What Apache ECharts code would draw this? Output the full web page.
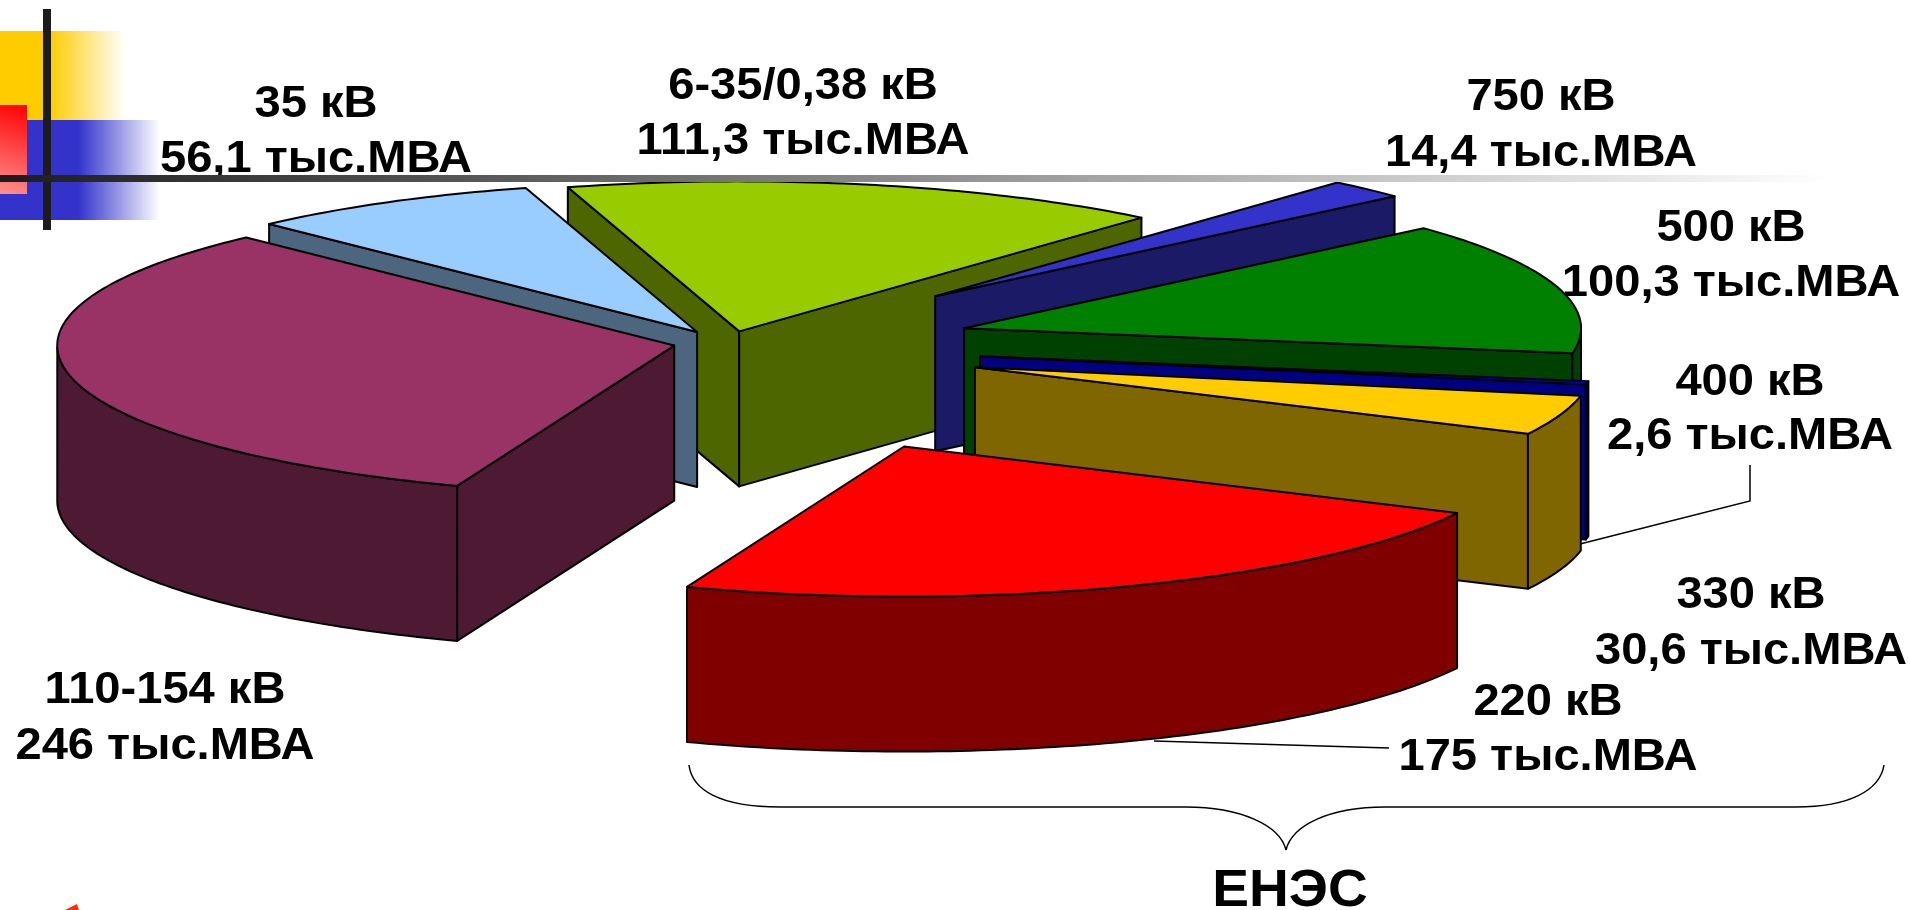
<!DOCTYPE html>
<html>
<head>
<meta charset="utf-8">
<style>
html,body{margin:0;padding:0;background:#fff;overflow:hidden}
#chart{width:1910px;height:910px}
</style>
<script src="https://cdn.jsdelivr.net/npm/echarts@6/dist/echarts.min.js"></script>
</head>
<body>
<div id="chart"></div>
<script>
// Installed transformer capacity by voltage class, thousand MVA
const voltages   = ['110-154 кВ', '35 кВ', '6-35/0,38 кВ', '750 кВ', '500 кВ', '400 кВ', '330 кВ', '220 кВ'];
const capacities = [246, 56.1, 111.3, 14.4, 100.3, 2.6, 30.6, 175];
const unit = 'тыс.МВА';
const groupCaption = 'ЕНЭС';

// Per-slice appearance
const topColors  = ['#993366', '#99ccff', '#99cc00', '#3333cc', '#008000', '#0000cc', '#ffcc00', '#ff0000'];
const sideColors = ['#4d1933', '#4d6680', '#4d6600', '#1a1a66', '#004000', '#000080', '#806600', '#800000'];
const explosion  = [0.084, 0.10, 0.093, 0.473, 0.40, 0.42, 0.424, 0.742];
const apexNudge  = [[0, -2], [3, 0], [2, 0], [6, 2], [2, 0], [0, 0], [2, 2], [11, -2]];
const paintRank  = [6, 5, 0, 1, 2, 3, 4, 7];

// Label anchors: [x, first line y, second line y]
const labelAnchors = [
  [165, 691, 747], [316, 105, 160], [803, 87, 142], [1541, 98, 154],
  [1731, 229, 284], [1750, 383, 437], [1751, 596, 652], [1548, 703, 758]
];

// Pie geometry on the page
const centre = [725, 345];
const radius = [617, 150];
const depth = 155;
const startAngle = 200;
const toRad = Math.PI / 180;

// Slight foreshortening of the tilted disc
const warp = a => a - 1 + 3.2 * Math.cos((a - 140) * toRad);

const total = capacities.reduce((s, v) => s + v, 0);
const spans = [];
capacities.reduce((from, v) => {
  const to = from + v / total * 360;
  spans.push([from, to]);
  return to;
}, startAngle);

const onDisc = (a, r) => [
  r * radius[0] * Math.sin(a * toRad),
  -r * radius[1] * Math.cos(a * toRad)
];

function renderSlice(params, api) {
  const i = params.dataIndex;
  const share = api.value(0) / total * 360;
  const from = warp(spans[i][0]);
  const to = warp(spans[i][0] + share);
  const off = onDisc((from + to) / 2, explosion[i]);
  const apex = [centre[0] + off[0] + apexNudge[i][0], centre[1] + off[1] + apexNudge[i][1]];
  const rim = a => {
    const p = onDisc(a, 1);
    return [apex[0] + p[0], apex[1] + p[1]];
  };
  const down = p => [p[0], p[1] + depth];

  const arc = [];
  const steps = Math.max(2, Math.ceil(to - from));
  for (let k = 0; k <= steps; k++) arc.push(from + (to - from) * k / steps);

  const line = { stroke: '#000', lineWidth: 2, lineJoin: 'round' };
  const side = Object.assign({ fill: sideColors[i] }, line);
  const faces = [];

  // Cut faces are shown when they turn towards the viewer
  if (Math.sin(from * toRad) < 0) {
    const p = rim(from);
    faces.push([apex, p, down(p), down(apex)]);
  }
  if (Math.sin(to * toRad) > 0) {
    const p = rim(to);
    faces.push([apex, p, down(p), down(apex)]);
  }
  // Outer wall along the near half of the rim
  const near = arc.filter(a => {
    const m = ((a % 360) + 360) % 360;
    return m >= 90 && m <= 270;
  });
  if (near.length > 1) {
    const upper = near.map(rim);
    faces.push(upper.concat(upper.map(down).reverse()));
  }

  const rank = paintRank[i] * 10;
  const children = faces.map((points, k) => ({
    type: 'polygon', z2: rank + k, shape: { points }, style: side
  }));
  children.push({
    type: 'polygon', z2: rank + 5,
    shape: { points: [apex].concat(arc.map(rim)) },
    style: Object.assign({ fill: topColors[i] }, line)
  });
  return { type: 'group', children };
}

const font = 'bold 44px "Liberation Sans", Arial, sans-serif';
const textEl = (text, x, y) => ({
  type: 'text', x, y, scaleX: 1.07, z: 20,
  style: { text, font, fill: '#000', align: 'center', verticalAlign: 'middle' }
});
const labels = [];
voltages.forEach((v, i) => {
  const [x, y1, y2] = labelAnchors[i];
  labels.push(textEl(v, x, y1));
  labels.push(textEl(String(capacities[i]).replace('.', ',') + ' ' + unit, x, y2));
});

const fade = (color, stop) => new echarts.graphic.LinearGradient(0, 0, 1, 0, [
  { offset: 0, color },
  { offset: stop, color },
  { offset: 1, color: '#ffffff' }
]);

const thin = { stroke: '#000', lineWidth: 1.5, fill: null };
const curve = (x1, y1, cpx1, cpy1, cpx2, cpy2, x2, y2) => ({
  type: 'bezierCurve', z: 20, shape: { x1, y1, cpx1, cpy1, cpx2, cpy2, x2, y2 }, style: thin
});
const straight = points => ({ type: 'polyline', z: 20, shape: { points }, style: thin });

// Slide ornament, leader lines and the brace over the grid voltages
const ornament = [
  { type: 'rect', z: 1, shape: { x: 0, y: 31, width: 125, height: 89 }, style: { fill: fade('#ffcc00', 0.4) } },
  { type: 'rect', z: 1, shape: { x: 0, y: 120, width: 160, height: 100 }, style: { fill: fade('#3333cc', 0.49) } },
  { type: 'rect', z: 2, shape: { x: 0, y: 105, width: 27, height: 89 },
    style: { fill: new echarts.graphic.LinearGradient(1, 0, 0, 1, [
      { offset: 0, color: '#ff0000' }, { offset: 1, color: '#ff9090' }
    ]) } },
  { type: 'rect', z: 3, shape: { x: 43, y: 9, width: 8, height: 221 }, style: { fill: '#1c1c1c' } },
  { type: 'rect', z: 30, shape: { x: 0, y: 175, width: 1830, height: 7 },
    style: { fill: new echarts.graphic.LinearGradient(0, 0, 1, 0, [
      { offset: 0, color: '#1c1c1c' }, { offset: 1, color: '#ffffff' }
    ]) } },
  { type: 'polygon', z: 3, shape: { points: [[65, 910], [77, 904], [79, 910]] }, style: { fill: '#ff3000' } },
  straight([[1580, 544], [1750, 501], [1750, 465]]),
  straight([[1154, 741], [1389, 748]]),
  curve(689, 765, 692, 790, 720, 807, 780, 807),
  straight([[780, 807], [1186, 807]]),
  curve(1186, 807, 1240, 807, 1280, 825, 1286, 850),
  curve(1286, 850, 1292, 825, 1330, 807, 1385, 807),
  straight([[1385, 807], [1796, 807]]),
  curve(1796, 807, 1850, 807, 1880, 790, 1884, 765),
  { type: 'text', x: 1290, y: 892, scaleX: 1.06, z: 20,
    style: { text: groupCaption, font: 'bold 52px "Liberation Sans", Arial, sans-serif', fill: '#000', align: 'center', verticalAlign: 'middle' } }
];

const chart = echarts.init(document.getElementById('chart'), null, { renderer: 'canvas' });
chart.setOption({
  animation: false,
  backgroundColor: '#ffffff',
  graphic: ornament.concat(labels),
  series: [{
    type: 'custom',
    coordinateSystem: 'none',
    renderItem: renderSlice,
    data: capacities.map(v => [v]),
    z: 10,
    silent: true
  }]
});
</script>
</body>
</html>
